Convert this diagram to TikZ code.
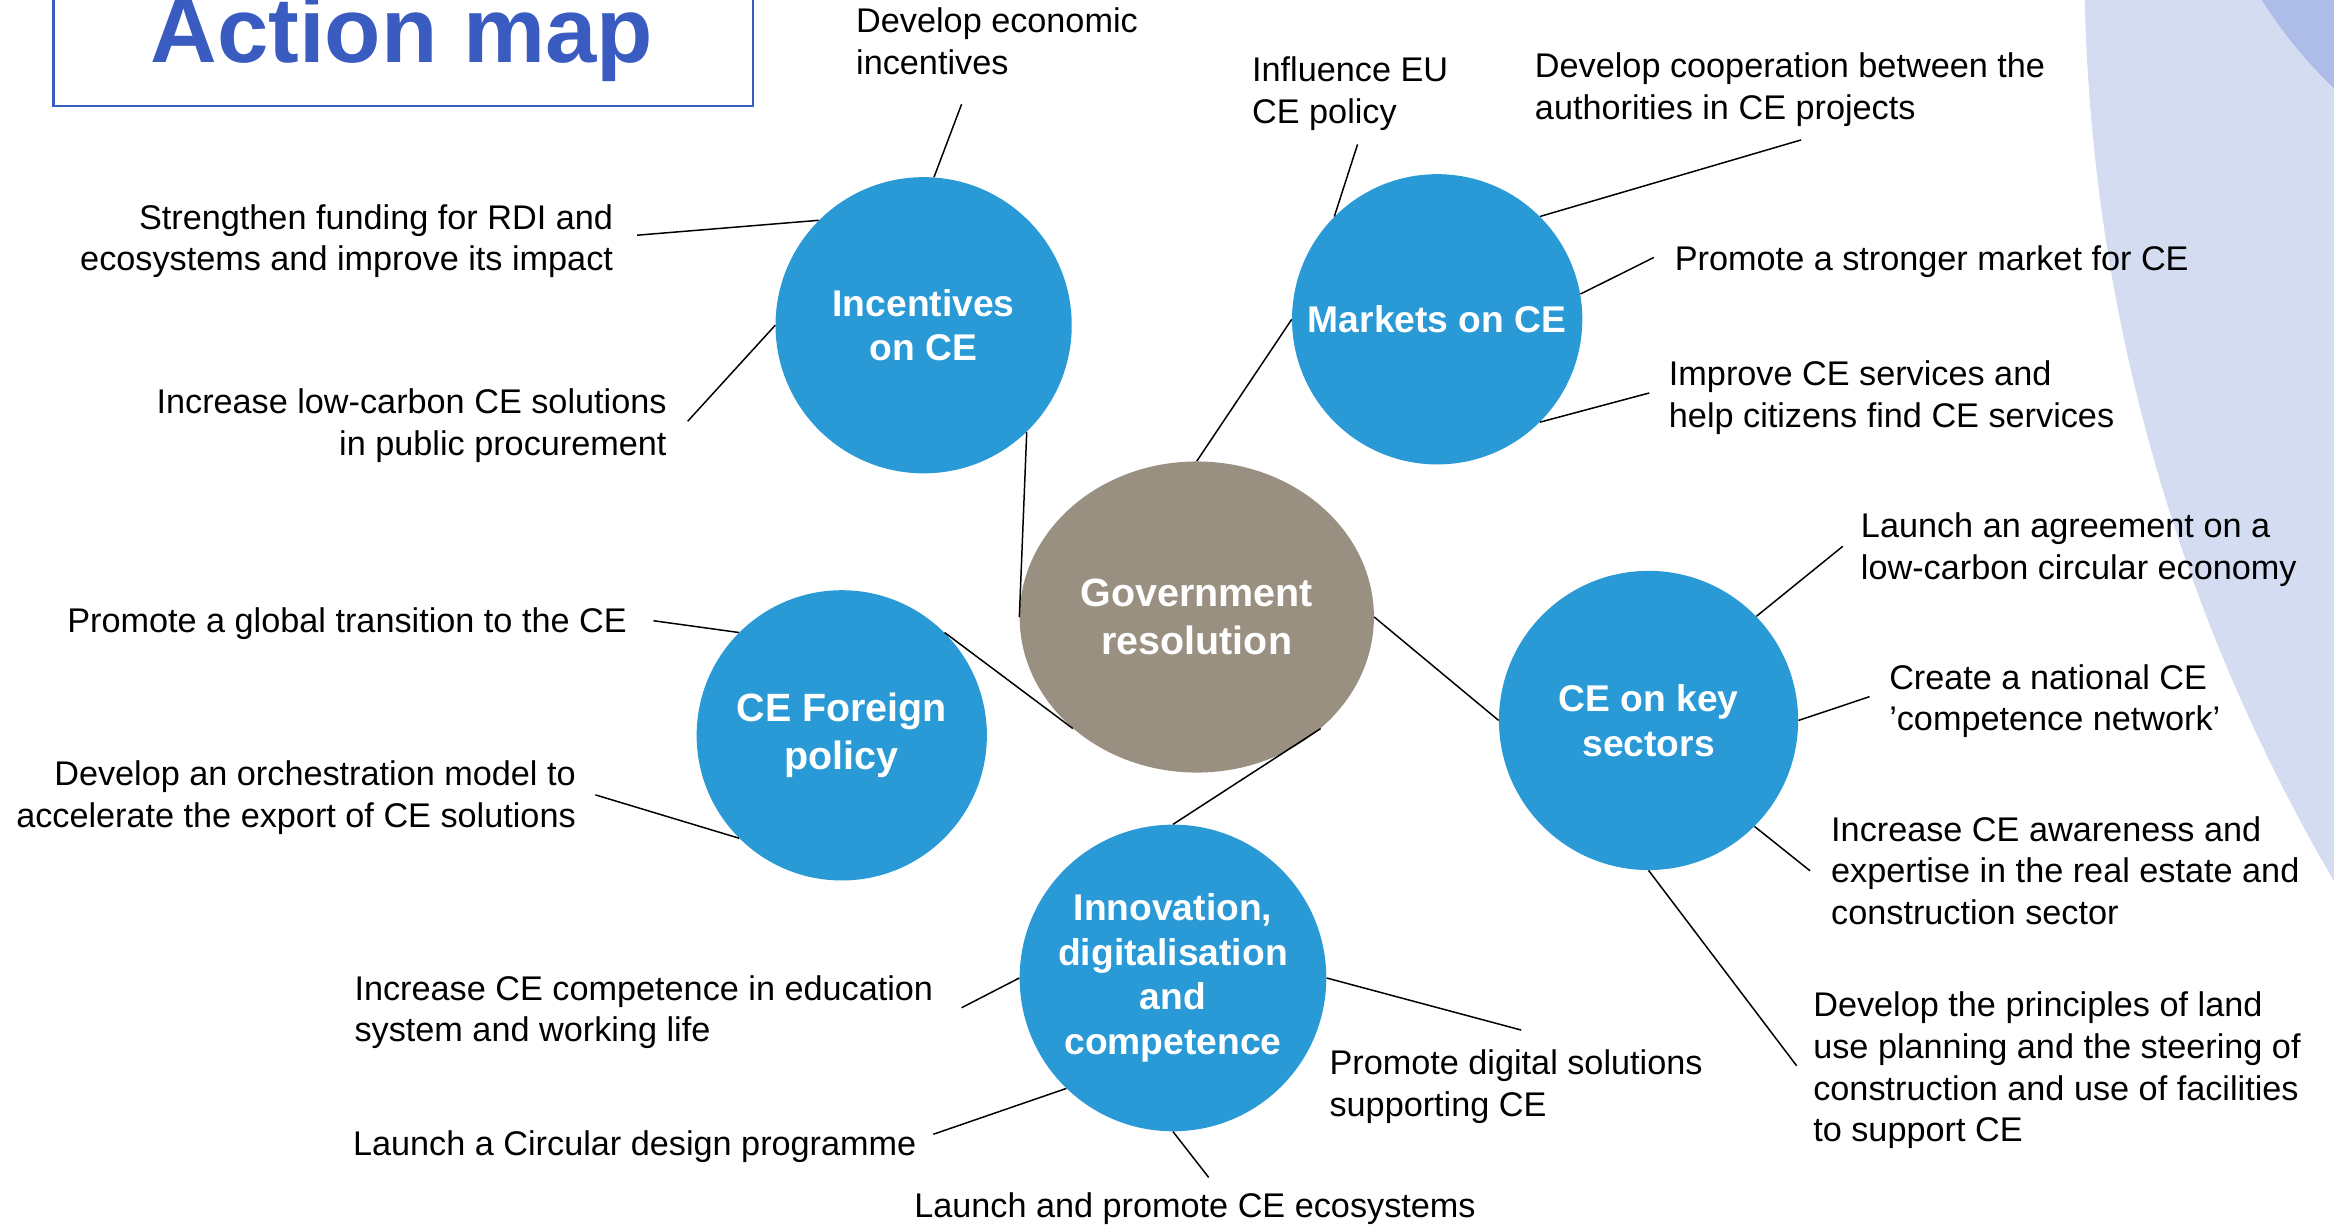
\documentclass[tikz,border=0pt]{standalone}
\usepackage{fontspec}
\setmainfont{Liberation Sans}
\usetikzlibrary{shapes.geometric}
\definecolor{hubblue}{HTML}{2A9AD6}
\definecolor{govgrey}{HTML}{9A9082}
\definecolor{titleblue}{HTML}{3A5BC0}
\definecolor{lavender}{HTML}{D4DCF2}
\definecolor{lavdark}{HTML}{AEBDE8}
\begin{document}
\begin{tikzpicture}[x=1pt, y=-1pt,
  hub/.style={circle, fill=hubblue, text=white, align=center, inner sep=0pt,
    font=\bfseries\fontsize{25}{30}\selectfont},
  leaf/.style={inner sep=0pt, font=\fontsize{23}{28}\selectfont},
  link/.style={line width=1pt}]
\useasboundingbox (0,0) rectangle (1568,823);
\begin{scope}
\clip (0,0) rectangle (1568,823);
\fill[lavender] (2630,-28.6) circle (1229.8pt);
\fill[lavdark] (1786,-168) circle (315pt);
\draw[titleblue, line width=1.5pt] (36,-20) rectangle (506,71);
\end{scope}
\node[anchor=base, text=titleblue, font=\bfseries\fontsize{62}{70}\selectfont] (title) at (270,42) {Action map};

% centre and the five themes
\node[ellipse, fill=govgrey, text=white, align=center, inner sep=0pt,
  minimum width=238pt, minimum height=209pt,
  font=\bfseries\fontsize{26.5}{32}\selectfont] (gov) at (804,414.5) {Government\\resolution};
\node[hub, minimum size=199pt] (inc) at (620.5,218.5) {Incentives\\on CE};
\node[hub, minimum size=195pt] (mkt) at (965.5,214.5) {Markets on CE};
\node[hub, minimum size=201pt] (key) at (1107.5,484) {CE on key\\sectors};
\node[hub, minimum size=195pt, font=\bfseries\fontsize{26.5}{32}\selectfont] (frn) at (565.5,494) {CE Foreign\\policy};
\node[hub, minimum size=206pt] (inn) at (788,657) {Innovation,\\digitalisation\\and\\competence};

% actions (base = last line)
\node[leaf, anchor=base west, align=left] (econ) at (575,50) {Develop economic\\incentives};
\node[leaf, anchor=base east, align=right] (rdi) at (412,182) {Strengthen funding for RDI and\\ecosystems and improve its impact};
\node[leaf, anchor=base east, align=right] (proc) at (448,306) {Increase low-carbon CE solutions\\in public procurement};
\node[leaf, anchor=base west, align=left] (eu) at (841,83) {Influence EU\\CE policy};
\node[leaf, anchor=base west, align=left] (coop) at (1031,80) {Develop cooperation between the\\authorities in CE projects};
\node[leaf, anchor=base west] (market) at (1125,182) {Promote a stronger market for CE};
\node[leaf, anchor=base west, align=left] (serv) at (1121,287) {Improve CE services and\\help citizens find CE services};
\node[leaf, anchor=base west, align=left] (agree) at (1250,389) {Launch an agreement on a\\low-carbon circular economy};
\node[leaf, anchor=base west, align=left] (netw) at (1269,491) {Create a national CE\\’competence network’};
\node[leaf, anchor=base west, align=left] (aware) at (1230,621) {Increase CE awareness and\\expertise in the real estate and\\construction sector};
\node[leaf, anchor=base west, align=left] (land) at (1218,767) {Develop the principles of land\\use planning and the steering of\\construction and use of facilities\\to support CE};
\node[leaf, anchor=base west] (glob) at (45,425) {Promote a global transition to the CE};
\node[leaf, anchor=base east, align=right] (orch) at (387,556) {Develop an orchestration model to\\accelerate the export of CE solutions};
\node[leaf, anchor=base west, align=left] (edu) at (238,700) {Increase CE competence in education\\system and working life};
\node[leaf, anchor=base west] (design) at (237,776) {Launch a Circular design programme};
\node[leaf, anchor=base west, align=left] (digi) at (893,750) {Promote digital solutions\\supporting CE};
\node[leaf, anchor=base west] (ecosys) at (614,818) {Launch and promote CE ecosystems};

% free ends of the connectors
\coordinate (econ-end) at (646,70);
\coordinate (rdi-end) at (428,158);
\coordinate (proc-end) at (462,283);
\coordinate (eu-end) at (912,97);
\coordinate (coop-end) at (1210,94);
\coordinate (market-end) at (1111,173);
\coordinate (serv-end) at (1108,264);
\coordinate (agree-end) at (1238,367);
\coordinate (netw-end) at (1256,468);
\coordinate (aware-end) at (1216,585);
\coordinate (land-end) at (1207,716);
\coordinate (glob-end) at (439,417);
\coordinate (orch-end) at (400,534);
\coordinate (edu-end) at (646,677);
\coordinate (digi-end) at (1022,692);
\coordinate (design-end) at (627,762);
\coordinate (ecosys-end) at (812,791);

\foreach \a/\b in {inc.86/econ-end, inc.135/rdi-end, inc.180/proc-end,
  mkt.135/eu-end, mkt.45/coop-end, mkt.10/market-end, mkt.315/serv-end,
  key.44/agree-end, key.0/netw-end, key.315/aware-end, key.270/land-end,
  frn.135/glob-end, frn.225/orch-end,
  inn.180/edu-end, inn.0/digi-end, inn.226/design-end, inn.270/ecosys-end}
  \draw[link] (\a) -- (\b);
\foreach \a/\b in {inc.314/gov.180, mkt.180/gov.90, gov.0/key.180, gov.222/frn.45, gov.318/inn.90}
  \draw[link] (\a) -- (\b);
\end{tikzpicture}
\end{document}
